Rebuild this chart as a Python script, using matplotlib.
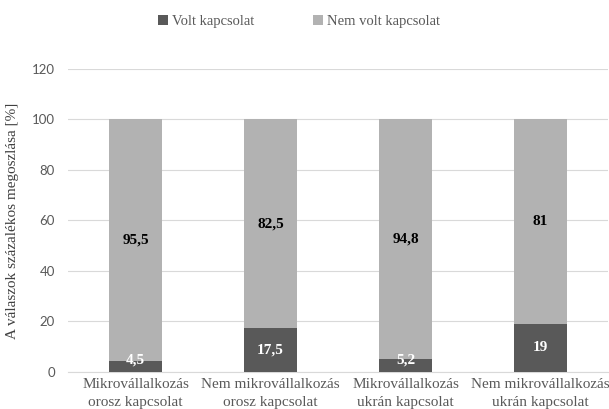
import matplotlib
matplotlib.use("Agg")
import matplotlib.pyplot as plt
import numpy as np

categories = ["Mikrovállalkozás\norosz kapcsolat", "Nem mikrovállalkozás\norosz kapcsolat",
              "Mikrovállalkozás\nukrán kapcsolat", "Nem mikrovállalkozás\nukrán kapcsolat"]
volt = [4.5, 17.5, 5.2, 19]
nem_volt = [95.5, 82.5, 94.8, 81]
volt_labels = ["4,5", "17,5", "5,2", "19"]
nem_labels = ["95,5", "82,5", "94,8", "81"]
yticks = [0, 20, 40, 60, 80, 100, 120]

dark = "#595959"
light = "#b2b2b2"
serif = ["Liberation Serif", "DejaVu Serif"]

fig = plt.figure(figsize=(6.09, 4.09), dpi=100)
ax = fig.add_axes([0.1117, 0.0905, 0.8867, 0.7408])

x = np.arange(len(categories))
w = 0.39
ax.bar(x, volt, w, color=dark, label="Volt kapcsolat", zorder=3)
ax.bar(x, nem_volt, w, bottom=volt, color=light, label="Nem volt kapcsolat", zorder=3)

for i in range(len(categories)):
    yl = max(volt[i] / 2, 4.6)
    ax.text(x[i], yl, volt_labels[i], ha="center", va="center", color="white",
            fontweight="bold", fontsize=11, family=serif, zorder=4)
    ax.text(x[i], volt[i] + nem_volt[i] / 2, nem_labels[i], ha="center", va="center",
            color="black", fontweight="bold", fontsize=11, family=serif, zorder=4)

ax.set_xlim(-0.5, len(categories) - 0.5)
ax.set_ylim(0, 120)
ax.set_yticks(yticks)
ax.set_yticklabels([str(t) for t in yticks], family="Lato", fontsize=9.5, color=dark)
ax.set_xticks(x)
ax.set_xticklabels(categories, family=serif, fontsize=11, color=dark, linespacing=1.55)
ax.tick_params(axis="both", length=0)
ax.tick_params(axis="y", pad=9.5)
ax.tick_params(axis="x", pad=4)
ax.grid(axis="y", color="#d9d9d9", linewidth=0.8, zorder=0)
for s in ["top", "right", "left"]:
    ax.spines[s].set_visible(False)
ax.spines["bottom"].set_color("#d9d9d9")
ax.spines["bottom"].set_linewidth(0.8)

ax.set_ylabel("A válaszok százalékos megoszlása [%]", family=serif, fontsize=11,
              color="#404040", labelpad=9)

leg = fig.legend(loc="center", bbox_to_anchor=(0.491, 0.947), ncol=2, frameon=False,
                 handlelength=0.7, handleheight=0.7, handletextpad=0.3, columnspacing=4.0,
                 prop={"family": serif, "size": 10.5})
for t in leg.get_texts():
    t.set_color(dark)

fig.savefig("out.png", dpi=100)
